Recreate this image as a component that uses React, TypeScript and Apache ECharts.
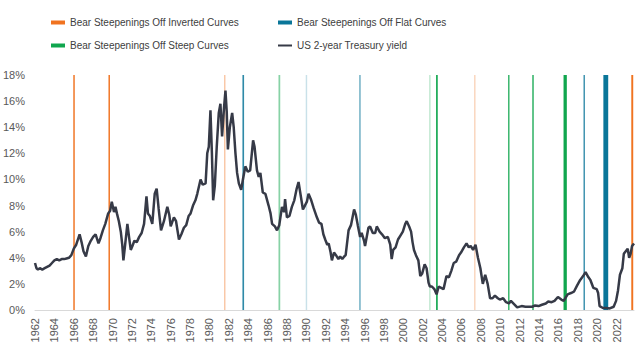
import React, { useEffect, useRef } from "react";
import * as echarts from "echarts";

// ---- data ----
const yAxisTicks = [0, 2, 4, 6, 8, 10, 12, 14, 16, 18];
const seriesNames = [
  "Bear Steepenings Off Inverted Curves",
  "Bear Steepenings Off Flat Curves",
  "Bear Steepenings Off Steep Curves",
  "US 2-year Treasury yield",
];

// [start year, end year, intensity]
const invertedEpisodes = [
  [1965.95, 1966.1, 1],
  [1969.58, 1969.73, 1],
  [1981.5, 1981.65, 0.4],
  [2007.3, 2007.45, 0.3],
  [2023.52, 2023.72, 1],
];
const flatEpisodes = [
  [1983.4, 1983.57, 0.85],
  [1989.93, 1990.08, 0.22],
  [1995.45, 1995.6, 0.6],
  [2018.6, 2018.72, 1],
  [2020.64, 2021.14, 1],
];
const steepEpisodes = [
  [1987.12, 1987.3, 0.5],
  [2002.66, 2002.82, 0.25],
  [2003.38, 2003.55, 1],
  [2010.8, 2010.96, 0.8],
  [2013.3, 2013.46, 0.85],
  [2016.53, 2016.87, 1],
];

// [year, yield %]
const yield1960s = [
  [1962.0, 3.6], [1962.15, 3.2], [1962.3, 3.1], [1962.5, 3.2], [1962.75, 3.1],
  [1963.0, 3.2], [1963.25, 3.3], [1963.5, 3.4], [1963.75, 3.6],
  [1964.0, 3.8], [1964.25, 3.9], [1964.5, 3.8], [1964.75, 3.9],
  [1965.0, 3.9], [1965.25, 3.95], [1965.5, 4.0], [1965.75, 4.2],
  [1966.0, 4.7], [1966.25, 5.0], [1966.6, 5.8], [1966.8, 5.2],
  [1967.0, 4.5], [1967.25, 4.1], [1967.5, 4.9], [1967.75, 5.3],
  [1968.0, 5.6], [1968.25, 5.8], [1968.55, 5.1], [1968.75, 5.5],
  [1969.0, 6.1], [1969.25, 6.6], [1969.55, 7.4], [1969.75, 7.6], [1969.92, 8.3],
];
const yield1970s = [
  [1970.15, 7.5], [1970.3, 7.9], [1970.45, 7.4], [1970.65, 6.8], [1970.85, 6.0],
  [1971.0, 5.0], [1971.12, 3.8], [1971.3, 5.0], [1971.53, 6.6], [1971.7, 5.6], [1971.88, 4.6],
  [1972.05, 4.9], [1972.25, 5.3], [1972.5, 5.2], [1972.75, 5.6],
  [1973.0, 5.9], [1973.25, 6.6], [1973.5, 8.7], [1973.65, 7.4], [1973.85, 7.2],
  [1974.1, 6.6], [1974.35, 8.9], [1974.55, 9.3], [1974.75, 7.8],
  [1975.0, 6.1], [1975.3, 6.8], [1975.65, 7.9], [1975.85, 7.3],
  [1976.0, 6.4], [1976.33, 7.1], [1976.55, 6.8], [1976.85, 5.4],
  [1977.1, 5.8], [1977.36, 6.3], [1977.6, 6.5], [1977.85, 7.2],
  [1978.05, 7.4], [1978.3, 8.0], [1978.55, 8.4], [1978.74, 8.9],
  [1979.08, 10.0], [1979.3, 9.6], [1979.6, 9.7], [1979.77, 12.0], [1979.93, 12.5],
];
const yield1980s = [
  [1980.1, 15.3], [1980.25, 12.0], [1980.38, 8.4], [1980.55, 9.5], [1980.75, 12.5], [1980.96, 15.1],
  [1981.13, 15.8], [1981.3, 13.3], [1981.5, 15.5], [1981.65, 16.8], [1981.78, 15.2], [1981.9, 12.3],
  [1982.1, 14.0], [1982.34, 15.1], [1982.5, 14.0], [1982.68, 12.0], [1982.85, 10.5],
  [1983.03, 9.7], [1983.27, 9.2], [1983.45, 10.0], [1983.7, 11.0], [1983.95, 10.6],
  [1984.2, 10.7], [1984.5, 13.0], [1984.65, 12.5], [1984.9, 10.7],
  [1985.08, 10.2], [1985.25, 10.5], [1985.5, 9.0], [1985.77, 8.9],
  [1986.1, 8.0], [1986.3, 7.4], [1986.46, 6.6], [1986.75, 6.4], [1986.97, 6.1],
  [1987.2, 6.5], [1987.48, 7.9], [1987.7, 7.5], [1987.8, 8.5], [1987.99, 7.1],
  [1988.25, 7.2], [1988.5, 7.9], [1988.75, 8.4],
  [1989.0, 9.3], [1989.19, 9.8], [1989.45, 8.6], [1989.64, 7.7], [1989.85, 8.0],
];
const yield1990s = [
  [1990.05, 8.3], [1990.22, 8.9], [1990.5, 8.4], [1990.75, 7.8],
  [1991.08, 7.1], [1991.3, 6.7], [1991.55, 6.6], [1991.75, 5.8], [1991.94, 5.4],
  [1992.15, 5.0], [1992.3, 5.1], [1992.5, 4.4], [1992.63, 3.8], [1992.85, 4.4],
  [1993.05, 4.2], [1993.3, 3.9], [1993.48, 4.1], [1993.7, 3.9], [1993.9, 4.1],
  [1994.05, 4.2], [1994.35, 6.1], [1994.6, 6.5], [1994.92, 7.7],
  [1995.1, 7.3], [1995.3, 6.5], [1995.54, 5.6], [1995.7, 5.9], [1995.95, 5.3],
  [1996.05, 4.9], [1996.4, 6.3], [1996.57, 6.4], [1996.85, 5.9],
  [1997.1, 5.9], [1997.26, 6.4], [1997.55, 6.0], [1997.8, 5.8],
  [1998.1, 5.5], [1998.4, 5.6], [1998.65, 5.0], [1998.8, 3.9], [1998.95, 4.6],
  [1999.2, 4.8], [1999.45, 5.4], [1999.7, 5.7], [1999.95, 6.0],
];
const yield2000s = [
  [2000.2, 6.6], [2000.35, 6.8], [2000.6, 6.4], [2000.8, 6.0], [2000.95, 5.2],
  [2001.1, 4.6], [2001.3, 4.2], [2001.55, 3.8], [2001.75, 2.6], [2001.95, 2.8],
  [2002.2, 3.5], [2002.4, 3.2], [2002.6, 2.1], [2002.74, 1.8], [2002.95, 1.8],
  [2003.2, 1.6], [2003.43, 1.2], [2003.65, 1.8], [2003.9, 1.7],
  [2004.15, 1.6], [2004.45, 2.6], [2004.7, 2.5], [2004.95, 3.0],
  [2005.2, 3.6], [2005.45, 3.7], [2005.75, 4.2], [2005.95, 4.4],
  [2006.25, 4.8], [2006.52, 5.1], [2006.75, 4.8], [2006.95, 4.9],
  [2007.2, 4.6], [2007.45, 5.0], [2007.7, 4.0], [2007.95, 3.2],
  [2008.2, 2.0], [2008.45, 2.7], [2008.7, 2.0], [2008.95, 0.9],
  [2009.2, 0.9], [2009.45, 1.1], [2009.75, 0.9], [2009.95, 0.8],
];
const yield2010s = [
  [2010.3, 0.9], [2010.6, 0.6], [2010.9, 0.5],
  [2011.1, 0.7], [2011.5, 0.4], [2011.75, 0.2],
  [2012.2, 0.3], [2012.6, 0.25], [2012.95, 0.25],
  [2013.3, 0.25], [2013.6, 0.35], [2013.95, 0.3],
  [2014.3, 0.4], [2014.7, 0.5], [2014.95, 0.65],
  [2015.3, 0.6], [2015.6, 0.7], [2015.95, 1.0],
  [2016.3, 0.8], [2016.55, 0.7], [2016.95, 1.2],
  [2017.3, 1.3], [2017.6, 1.4], [2017.95, 1.9],
  [2018.25, 2.3], [2018.55, 2.6], [2018.8, 2.9],
  [2019.1, 2.5], [2019.3, 2.3], [2019.6, 1.7], [2019.95, 1.6],
];
const yield2020s = [
  [2020.1, 1.3], [2020.25, 0.3], [2020.6, 0.15], [2020.95, 0.15],
  [2021.3, 0.12], [2021.7, 0.25], [2021.95, 0.7],
  [2022.15, 1.5], [2022.35, 2.7], [2022.6, 3.2], [2022.75, 4.3], [2022.95, 4.5],
  [2023.15, 4.7], [2023.3, 4.0], [2023.45, 4.3], [2023.6, 4.9], [2023.8, 5.1],
];

const xMin = 1962;
const xMax = 2023.8;

// ---- styles ----
const ORANGE = "#F07320";
const BLUE = "#0A7699";
const GREEN = "#10A64E";
const LINE = "#363A47";
const FONT = "Liberation Sans, Arial, sans-serif";

function episodeSeries(name: string, color: string, data: number[][]) {
  return {
    name,
    type: "custom",
    z: 1,
    itemStyle: { color },
    encode: { x: [0, 1] },
    data,
    renderItem: (params: any, api: any) => {
      const a = api.coord([api.value(0), 18]);
      const b = api.coord([api.value(1), 0]);
      return {
        type: "rect",
        shape: { x: a[0], y: a[1], width: Math.max(1, b[0] - a[0]), height: b[1] - a[1] },
        style: { fill: color, opacity: api.value(2) },
      };
    },
  };
}

export default function App() {
  const ref = useRef<HTMLDivElement>(null);
  useEffect(() => {
    if (!ref.current) return;
    const chart = echarts.init(ref.current, undefined, { renderer: "svg" });
    const yieldData = [
      ...yield1960s, ...yield1970s, ...yield1980s, ...yield1990s, ...yield2000s, ...yield2010s, ...yield2020s,
    ];
    const legendText = { fontFamily: FONT, fontSize: 10, color: "#404040", lineHeight: 12 };
    chart.setOption({
      animation: false,
      textStyle: { fontFamily: FONT },
      grid: { left: 34, right: 6, top: 75, bottom: 46, containLabel: false },
      legend: [
        {
          orient: "vertical",
          left: 51,
          top: 16.5,
          padding: 0,
          itemWidth: 14,
          itemHeight: 4,
          itemGap: 11,
          textStyle: legendText,
          data: [
            { name: seriesNames[0], icon: "rect" },
            { name: seriesNames[2], icon: "rect" },
          ],
        },
        {
          orient: "vertical",
          left: 278,
          top: 16.5,
          padding: 0,
          itemWidth: 14,
          itemHeight: 4,
          itemGap: 11,
          textStyle: legendText,
          data: [
            { name: seriesNames[1], icon: "rect" },
            { name: seriesNames[3], icon: "path://M0,0H14V2H0Z" },
          ],
        },
      ],
      xAxis: {
        type: "value",
        min: xMin,
        max: xMax,
        interval: 2,
        axisLine: { show: true, lineStyle: { color: "#D9D9D9", width: 1 } },
        axisTick: { show: false },
        splitLine: { show: false },
        axisLabel: {
          rotate: 90,
          margin: 8,
          fontSize: 11,
          color: "#595959",
          fontFamily: FONT,
          showMaxLabel: false,
          formatter: (v: number) => String(Math.round(v)),
        },
      },
      yAxis: {
        type: "value",
        min: yAxisTicks[0],
        max: yAxisTicks[yAxisTicks.length - 1],
        interval: 2,
        axisLine: { show: false },
        axisTick: { show: false },
        splitLine: { show: false },
        axisLabel: {
          margin: 10,
          fontSize: 11,
          color: "#595959",
          fontFamily: FONT,
          formatter: "{value}%",
        },
      },
      series: [
        episodeSeries(seriesNames[0], ORANGE, invertedEpisodes),
        episodeSeries(seriesNames[1], BLUE, flatEpisodes),
        episodeSeries(seriesNames[2], GREEN, steepEpisodes),
        {
          name: seriesNames[3],
          type: "line",
          z: 5,
          data: yieldData,
          showSymbol: false,
          symbol: "none",
          color: LINE,
          lineStyle: { color: LINE, width: 2.5 },
        },
      ],
    });
    return () => chart.dispose();
  }, []);
  return (
    <div
      ref={ref}
      style={{ position: "absolute", left: 0, top: 0, width: 640, height: 356 }}
    />
  );
}
